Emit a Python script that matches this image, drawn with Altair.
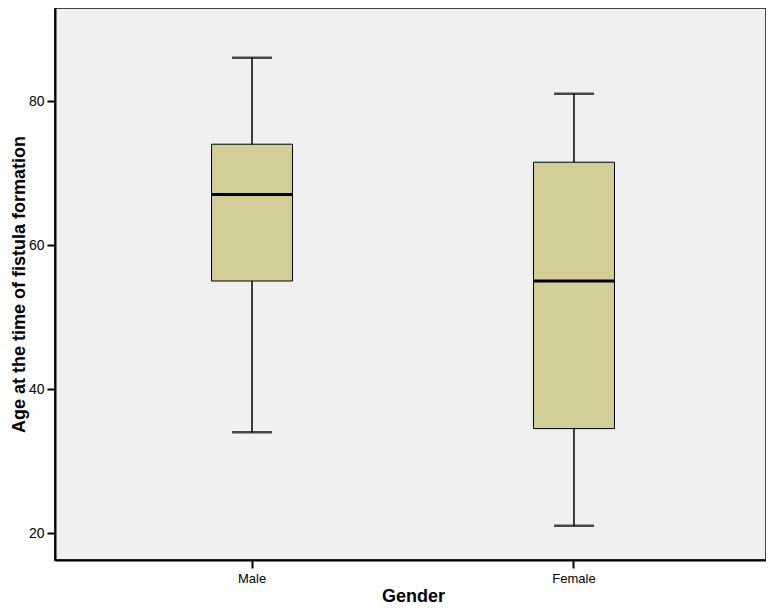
import altair as alt
import pandas as pd

genders = ["Male", "Female"]
mins = [34, 21]
q1s = [55, 34.5]
medians = [67, 55]
q3s = [74, 71.5]
maxs = [86, 81]
y_ticks = [20, 40, 60, 80]

df = pd.DataFrame({
    "gender": genders,
    "min": mins,
    "q1": q1s,
    "median": medians,
    "q3": q3s,
    "max": maxs,
})

FONT = "Liberation Sans"

x_enc = alt.X(
    "gender:N",
    sort=genders,
    scale=alt.Scale(range=[0, 716], paddingInner=0, paddingOuter=0.112),
    axis=alt.Axis(
        title="Gender",
        labelAngle=0,
        labelFontSize=13,
        labelFont=FONT,
        labelColor="black",
        labelPadding=4,
        tickSize=8,
        tickWidth=2,
        tickColor="black",
        domainColor="black",
        domainWidth=2,
        titleFont=FONT,
        titleFontSize=18,
        titleFontWeight="bold",
        titleColor="black",
        titlePadding=2,
    ),
)

y_scale = alt.Scale(domain=[16.25, 92.92], nice=False, zero=False)
y_axis = alt.Axis(
    title="Age at the time of fistula formation",
    values=y_ticks,
    grid=False,
    labelFontSize=14,
    labelFont=FONT,
    labelColor="black",
    labelPadding=3,
    tickSize=8,
    tickWidth=2,
    tickColor="black",
    domainColor="black",
    domainWidth=2,
    titleFont=FONT,
    titleFontSize=18,
    titleFontWeight="bold",
    titleColor="black",
    titlePadding=0,
)

base = alt.Chart(df)

whisker = base.mark_rule(color="black", strokeWidth=1.5).encode(
    x=x_enc,
    y=alt.Y("min:Q", scale=y_scale, axis=y_axis),
    y2="max:Q",
)

caps_low = base.mark_tick(size=40, thickness=2.5, color="black").encode(
    x=x_enc, y=alt.Y("min:Q", scale=y_scale, axis=y_axis)
)
caps_high = base.mark_tick(size=40, thickness=2.5, color="black").encode(
    x=x_enc, y=alt.Y("max:Q", scale=y_scale, axis=y_axis)
)

box = base.mark_bar(size=81, color="#D3CE98", stroke="black", strokeWidth=1).encode(
    x=x_enc,
    y=alt.Y("q1:Q", scale=y_scale, axis=y_axis),
    y2="q3:Q",
)

median = base.mark_tick(size=81, thickness=3, color="black", opacity=1).encode(
    x=x_enc, y=alt.Y("median:Q", scale=y_scale, axis=y_axis)
)

chart = (
    alt.layer(whisker, caps_low, caps_high, box, median)
    .properties(
        width=711,
        height=552,
        padding={"left": 47, "top": 0, "right": 0, "bottom": 47},
        autosize=alt.AutoSizeParams(type="none"),
        background="white",
    )
    .configure_view(fill="#F0F0F0", stroke="#444444", strokeWidth=2)
)

chart.save("out.html", embed_options={"renderer": "svg", "actions": False})
